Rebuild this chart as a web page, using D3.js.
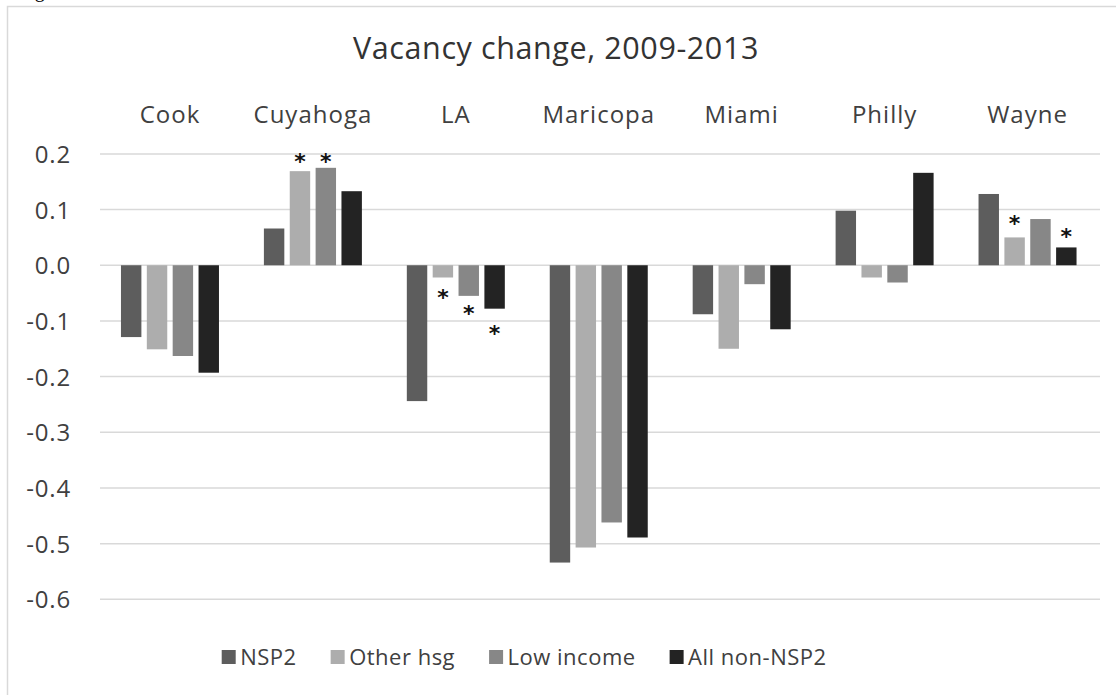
<!DOCTYPE html>
<html><head><meta charset="utf-8">
<script src="https://cdn.jsdelivr.net/npm/d3@7"></script>
<style>
html,body{margin:0;padding:0;background:#fff;}
svg{display:block;font-family:"Open Sans","Noto Sans",sans-serif;}
</style></head>
<body>
<svg id="chart" width="1116" height="695"></svg>
<script>
const title = "Vacancy change, 2009-2013";
const categories = ["Cook","Cuyahoga","LA","Maricopa","Miami","Philly","Wayne"];
const seriesNames = ["NSP2","Other hsg","Low income","All non-NSP2"];
const seriesColors = ["#5d5d5d","#adadad","#878787","#232323"];
const nsp2      = [-0.129, 0.066, -0.244, -0.534, -0.088, 0.098, 0.128];
const otherHsg  = [-0.151, 0.169, -0.022, -0.507, -0.150, -0.022, 0.050];
const lowIncome = [-0.163, 0.175, -0.055, -0.462, -0.034, -0.031, 0.083];
const allNonNsp2= [-0.193, 0.133, -0.078, -0.489, -0.115, 0.166, 0.032];
const yTicks = [0.2, 0.1, 0.0, -0.1, -0.2, -0.3, -0.4, -0.5, -0.6];
// significance markers: category, series, value where the asterisk sits
const starCats   = ["Cuyahoga","Cuyahoga","LA","LA","LA","Wayne","Wayne"];
const starSeries = ["Other hsg","Low income","Other hsg","Low income","All non-NSP2","Other hsg","All non-NSP2"];
const starValues = [0.195, 0.195, -0.048, -0.077, -0.114, 0.085, 0.061];

const seriesValues = [nsp2, otherHsg, lowIncome, allNonNsp2];

const svg = d3.select("#chart");

// outer frame
svg.append("rect").attr("x",7.5).attr("y",6.5).attr("width",1200).attr("height",800)
  .attr("fill","none").attr("stroke","#d9d9d9").attr("stroke-width",1.5);

// fragment of caption above the chart (cut off in the source image)
svg.append("text").attr("x",18).attr("y",-3)
  .attr("font-family","'Liberation Serif',serif").attr("font-size",20).attr("fill","#000")
  .text("Figure");

const y = d3.scaleLinear().domain([-0.6, 0.2]).range([599.3, 153.9]);
const x0 = d3.scaleBand().domain(categories).range([98.5, 1099]).paddingInner(0).paddingOuter(0);
const groupW = 98;
const off = (x0.bandwidth() - groupW) / 2;
const x1 = d3.scaleBand().domain(seriesNames).range([off, off + groupW]).paddingInner(0.21).paddingOuter(0);

// gridlines
svg.append("g").selectAll("line").data(yTicks).join("line")
  .attr("x1",100).attr("x2",1100)
  .attr("y1",d=>y(d)).attr("y2",d=>y(d))
  .attr("stroke","#d9d9d9").attr("stroke-width",1.5);

// y axis labels
const fmt = d3.format(".1f");
const yAxis = d3.axisLeft(y).tickValues(yTicks).tickFormat(d=>fmt(d).replace("\u2212","-")).tickSize(0).tickPadding(0);
const yg = svg.append("g").attr("transform","translate(71,0)").call(yAxis);
yg.select(".domain").remove();
yg.selectAll("text").attr("font-size",24).attr("fill","#404040")
  .attr("font-family","'Open Sans',sans-serif").attr("letter-spacing","0.8px").attr("dy","0.36em");

// bars
const barData = [];
categories.forEach((c,i)=>seriesNames.forEach((s,j)=>barData.push({c,s,j,v:seriesValues[j][i]})));
svg.append("g").selectAll("rect").data(barData).join("rect")
  .attr("x",d=>x0(d.c)+x1(d.s))
  .attr("width",x1.bandwidth())
  .attr("y",d=>y(Math.max(0,d.v)))
  .attr("height",d=>Math.abs(y(d.v)-y(0)))
  .attr("fill",d=>seriesColors[d.j]);

// category labels on top
svg.append("g").selectAll("text").data(categories).join("text")
  .attr("x",d=>x0(d)+x0.bandwidth()/2)
  .attr("y",122.5)
  .attr("text-anchor","middle")
  .attr("font-size",24).attr("letter-spacing","1px").attr("fill","#404040")
  .text(d=>d);

// title
svg.append("text").attr("x",556).attr("y",59).attr("text-anchor","middle")
  .attr("font-size",30.5).attr("letter-spacing","0.6px").attr("fill","#333").text(title);

// significance stars
const starFs = 22;
svg.append("g").selectAll("text").data(starCats.map((c,i)=>({c,s:starSeries[i],v:starValues[i]}))).join("text")
  .attr("x",d=>x0(d.c)+x1(d.s)+x1.bandwidth()/2)
  .attr("y",d=>y(d.v)+starFs*0.58)
  .attr("text-anchor","middle")
  .attr("font-size",starFs).attr("font-weight","bold").attr("fill","#111")
  .attr("font-family","'DejaVu Sans',sans-serif")
  .text("*");

// legend
const legend = svg.append("g");
let lx = 221.7;
const ly = 657;
seriesNames.forEach((s,j)=>{
  legend.append("rect").attr("x",lx).attr("y",ly-7).attr("width",14).attr("height",14).attr("fill",seriesColors[j]);
  const t = legend.append("text").attr("x",lx+18.5).attr("y",ly).attr("dy","0.36em")
    .attr("font-size",22).attr("letter-spacing","0.5px").attr("fill","#404040").text(s);
  const w = t.node().getComputedTextLength();
  lx = lx + 18.5 + w + 34;
});
</script>
</body></html>
